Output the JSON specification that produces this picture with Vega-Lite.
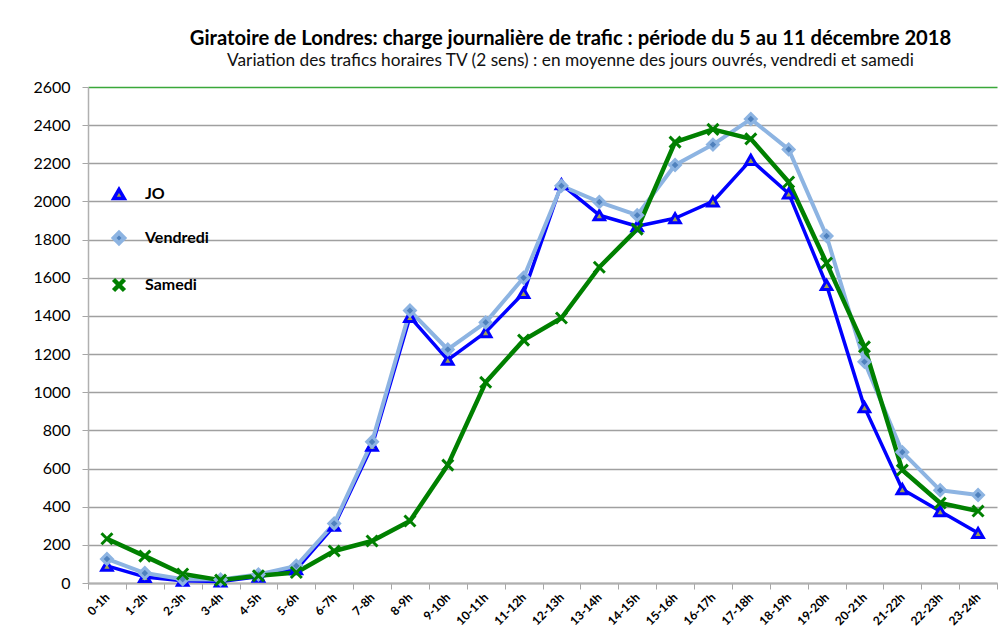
{
  "$schema": "https://vega.github.io/schema/vega-lite/v6.json",
  "autosize": {"type": "none"},
  "padding": {"left": 88, "top": 87, "right": 2, "bottom": 53},
  "width": 909,
  "height": 496,
  "background": "white",
  "title": {
    "text": "Giratoire de Londres: charge journalière de trafic :  période du 5 au 11 décembre 2018",
    "subtitle": "Variation des trafics horaires TV (2 sens) : en moyenne des jours ouvrés, vendredi et samedi",
    "anchor": "middle",
    "dx": 28,
    "offset": 10,
    "font": "Lato",
    "fontSize": 20.2,
    "fontWeight": "bold",
    "color": "#000000",
    "subtitleFont": "Lato",
    "subtitleFontSize": 17.3,
    "subtitleColor": "#111111",
    "subtitlePadding": 3
  },
  "config": {
    "view": {"stroke": null},
    "font": "Lato"
  },
  "datasets": {
    "traffic": [
      {"h": "0-1h", "s": "JO", "v": 90}, {"h": "1-2h", "s": "JO", "v": 32}, {"h": "2-3h", "s": "JO", "v": 12}, {"h": "3-4h", "s": "JO", "v": 8},
      {"h": "4-5h", "s": "JO", "v": 33}, {"h": "5-6h", "s": "JO", "v": 72}, {"h": "6-7h", "s": "JO", "v": 300}, {"h": "7-8h", "s": "JO", "v": 720},
      {"h": "8-9h", "s": "JO", "v": 1395}, {"h": "9-10h", "s": "JO", "v": 1170}, {"h": "10-11h", "s": "JO", "v": 1315}, {"h": "11-12h", "s": "JO", "v": 1520},
      {"h": "12-13h", "s": "JO", "v": 2090}, {"h": "13-14h", "s": "JO", "v": 1928}, {"h": "14-15h", "s": "JO", "v": 1870}, {"h": "15-16h", "s": "JO", "v": 1912},
      {"h": "16-17h", "s": "JO", "v": 2000}, {"h": "17-18h", "s": "JO", "v": 2218}, {"h": "18-19h", "s": "JO", "v": 2042}, {"h": "19-20h", "s": "JO", "v": 1562},
      {"h": "20-21h", "s": "JO", "v": 922}, {"h": "21-22h", "s": "JO", "v": 492}, {"h": "22-23h", "s": "JO", "v": 376}, {"h": "23-24h", "s": "JO", "v": 262},
      {"h": "0-1h", "s": "Vendredi", "v": 126}, {"h": "1-2h", "s": "Vendredi", "v": 52}, {"h": "2-3h", "s": "Vendredi", "v": 20}, {"h": "3-4h", "s": "Vendredi", "v": 18},
      {"h": "4-5h", "s": "Vendredi", "v": 45}, {"h": "5-6h", "s": "Vendredi", "v": 90}, {"h": "6-7h", "s": "Vendredi", "v": 312}, {"h": "7-8h", "s": "Vendredi", "v": 740},
      {"h": "8-9h", "s": "Vendredi", "v": 1428}, {"h": "9-10h", "s": "Vendredi", "v": 1224}, {"h": "10-11h", "s": "Vendredi", "v": 1366}, {"h": "11-12h", "s": "Vendredi", "v": 1600},
      {"h": "12-13h", "s": "Vendredi", "v": 2082}, {"h": "13-14h", "s": "Vendredi", "v": 1997}, {"h": "14-15h", "s": "Vendredi", "v": 1928}, {"h": "15-16h", "s": "Vendredi", "v": 2191},
      {"h": "16-17h", "s": "Vendredi", "v": 2298}, {"h": "17-18h", "s": "Vendredi", "v": 2432}, {"h": "18-19h", "s": "Vendredi", "v": 2273}, {"h": "19-20h", "s": "Vendredi", "v": 1819},
      {"h": "20-21h", "s": "Vendredi", "v": 1160}, {"h": "21-22h", "s": "Vendredi", "v": 686}, {"h": "22-23h", "s": "Vendredi", "v": 486}, {"h": "23-24h", "s": "Vendredi", "v": 461},
      {"h": "0-1h", "s": "Samedi", "v": 232}, {"h": "1-2h", "s": "Samedi", "v": 141}, {"h": "2-3h", "s": "Samedi", "v": 47}, {"h": "3-4h", "s": "Samedi", "v": 15},
      {"h": "4-5h", "s": "Samedi", "v": 38}, {"h": "5-6h", "s": "Samedi", "v": 55}, {"h": "6-7h", "s": "Samedi", "v": 168}, {"h": "7-8h", "s": "Samedi", "v": 220},
      {"h": "8-9h", "s": "Samedi", "v": 325}, {"h": "9-10h", "s": "Samedi", "v": 618}, {"h": "10-11h", "s": "Samedi", "v": 1052}, {"h": "11-12h", "s": "Samedi", "v": 1273},
      {"h": "12-13h", "s": "Samedi", "v": 1389}, {"h": "13-14h", "s": "Samedi", "v": 1655}, {"h": "14-15h", "s": "Samedi", "v": 1855}, {"h": "15-16h", "s": "Samedi", "v": 2311},
      {"h": "16-17h", "s": "Samedi", "v": 2378}, {"h": "17-18h", "s": "Samedi", "v": 2328}, {"h": "18-19h", "s": "Samedi", "v": 2102}, {"h": "19-20h", "s": "Samedi", "v": 1677},
      {"h": "20-21h", "s": "Samedi", "v": 1238}, {"h": "21-22h", "s": "Samedi", "v": 592}, {"h": "22-23h", "s": "Samedi", "v": 419}, {"h": "23-24h", "s": "Samedi", "v": 377}
    ]
  },
  "data": {"name": "traffic"},
  "encoding": {
    "x": {
      "field": "h",
      "type": "ordinal",
      "sort": null,
      "bandPosition": 0.5,
      "scale": {"type": "band", "paddingInner": 0, "paddingOuter": 0},
      "axis": {
        "title": null,
        "labelAngle": -45,
        "labelAlign": "right",
        "labelBaseline": "middle",
        "labelFont": "Lato",
        "labelFontSize": 12,
        "labelFontWeight": "bold",
        "labelColor": "#000000",
        "labelPadding": 6,
        "tickBand": "extent",
        "tickColor": "#a6a6a6",
        "tickSize": 6,
        "tickWidth": 1,
        "domainColor": "#b0b0b0",
        "domainWidth": 2,
        "grid": false
      }
    },
    "y": {
      "field": "v",
      "type": "quantitative",
      "scale": {"domain": [0, 2600], "nice": false, "zero": true},
      "axis": {
        "title": null,
        "format": "d",
        "values": [0, 200, 400, 600, 800, 1000, 1200, 1400, 1600, 1800, 2000, 2200, 2400, 2600],
        "labelFont": "Lato",
        "labelFontSize": 16,
        "labelColor": "#000000",
        "labelPadding": 12,
        "tickColor": "#a6a6a6",
        "tickSize": 6,
        "domainColor": "#b0b0b0",
        "domainWidth": 1.5,
        "grid": true,
        "gridColor": {"condition": {"test": "datum.value == 2600", "value": "#3aa83a"}, "value": "#a0a0a0"},
        "gridWidth": 1.3
      }
    }
  },
  "layer": [
    {
      "mark": {"type": "line", "strokeJoin": "round"},
      "encoding": {
        "stroke": {
          "field": "s",
          "type": "nominal",
          "scale": {"domain": ["JO", "Vendredi", "Samedi"], "range": ["#0000ff", "#8db4e2", "#008000"]}
        },
        "strokeWidth": {
          "field": "s",
          "type": "nominal",
          "scale": {"domain": ["JO", "Vendredi", "Samedi"], "range": [3.5, 4.5, 3]},
          "legend": null
        }
      }
    },
    {
      "mark": {"type": "point", "filled": false, "strokeWidth": 3, "opacity": 1},
      "encoding": {
        "stroke": {
          "field": "s",
          "type": "nominal",
          "scale": {"domain": ["JO", "Vendredi", "Samedi"], "range": ["#0000ff", "#8db4e2", "#008000"]},
          "legend": {
            "title": null,
            "orient": "none",
            "legendX": 23,
            "legendY": 99,
            "labelFont": "Lato",
            "labelFontSize": 16,
            "labelFontWeight": "bold",
            "labelColor": "#000000",
            "rowPadding": 18,
            "symbolStrokeWidth": 3,
            "symbolSize": 130,
            "labelOffset": 18
          }
        },
        "fill": {
          "field": "s",
          "type": "nominal",
          "scale": {"domain": ["JO", "Vendredi", "Samedi"], "range": ["#a3a34f", "#4f81bd", "#008000"]}
        },
        "shape": {
          "field": "s",
          "type": "nominal",
          "scale": {"domain": ["JO", "Vendredi", "Samedi"], "range": ["triangle-up", "diamond", "M-1,-1L1,1M-1,1L1,-1"]}
        },
        "size": {
          "field": "s",
          "type": "nominal",
          "scale": {"domain": ["JO", "Vendredi", "Samedi"], "range": [110, 120, 100]},
          "legend": null
        }
      }
    }
  ]
}
